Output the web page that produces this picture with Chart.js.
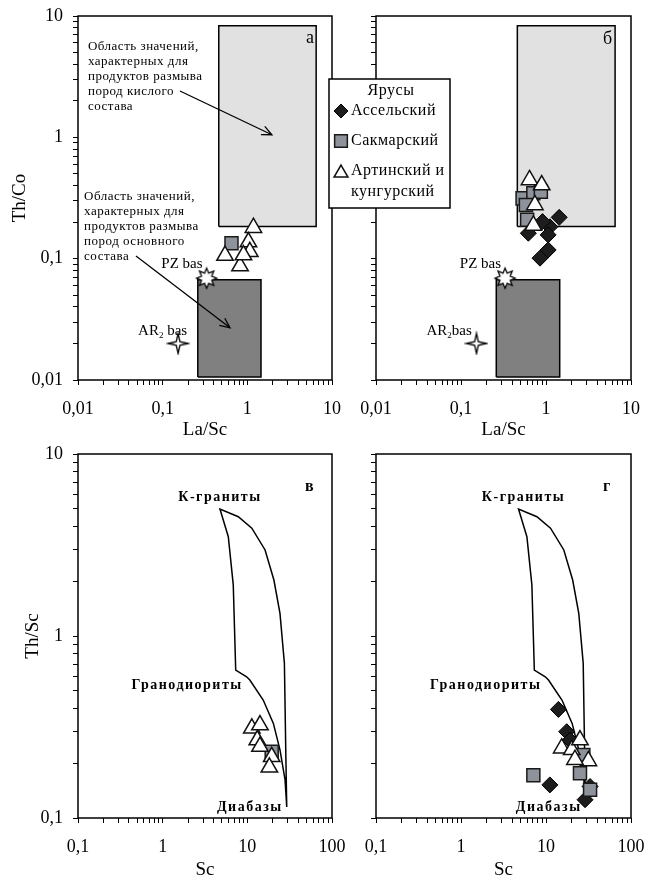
<!DOCTYPE html>
<html>
<head>
<meta charset="utf-8">
<script src="https://cdn.jsdelivr.net/npm/chart.js@4.4.1/dist/chart.umd.min.js"></script>
<style>
  html, body { margin: 0; padding: 0; background: #fff; overflow: hidden; }
  #wrap { position: relative; width: 648px; height: 877px; }
  canvas { position: absolute; }
</style>
</head>
<body>
<div id="wrap">
  <canvas id="pa" width="348" height="448" style="left:0;top:0"></canvas>
  <canvas id="pb" width="328" height="448" style="left:320px;top:0"></canvas>
  <canvas id="pc" width="348" height="447" style="left:0;top:430px"></canvas>
  <canvas id="pd" width="328" height="447" style="left:320px;top:430px"></canvas>
</div>
<script>
// ---------- axis decades and tick labels ----------
const laScDecades = [0.01, 0.1, 1, 10];
const laScLabels  = ['0,01', '0,1', '1', '10'];
const thCoDecades = [0.01, 0.1, 1, 10];
const thCoLabels  = ['0,01', '0,1', '1', '10'];
const scDecades   = [0.1, 1, 10, 100];
const scLabels    = ['0,1', '1', '10', '100'];
const thScDecades = [0.1, 1, 10];
const thScLabels  = ['0,1', '1', '10'];

// ---------- Th/Co vs La/Sc ----------
// panel "а"
const artA_LaSc = [1.18, 1.03, 1.07, 0.545, 0.82, 0.90];
const artA_ThCo = [0.180, 0.137, 0.114, 0.106, 0.087, 0.107];
const sakA_LaSc = [0.65];
const sakA_ThCo = [0.134];
// panel "б"
const assB_LaSc = [1.43, 1.11, 0.62, 1.06, 0.91, 0.85, 1.06];
const assB_ThCo = [0.219, 0.183, 0.162, 0.157, 0.202, 0.101, 0.118];
const sakB_LaSc = [0.53, 0.71, 0.58, 0.60, 0.87];
const sakB_ThCo = [0.314, 0.346, 0.277, 0.209, 0.356];
const artB_LaSc = [0.64, 0.89, 0.74, 0.71];
const artB_ThCo = [0.445, 0.404, 0.277, 0.188];
// reference basalts
const pzBas = { laSc: 0.33, thCo: 0.069 };
const ar2Bas = { laSc: 0.152, thCo: 0.020 };
// fields: felsic-source (light) and mafic-source (dark)
const felsicLaSc = [0.46, 6.5];
const felsicThCo = [0.184, 8.3];
const maficLaSc  = [0.26, 1.45];
const maficThCo  = [0.0106, 0.067];
// annotation arrows [fromX, fromY, toX, toY] in La/Sc, Th/Co
const arrowFelsic = [0.160, 2.41, 1.95, 1.05];
const arrowMafic  = [0.0484, 0.105, 0.624, 0.0269];
const noteFelsic = ['Область значений,', 'характерных для', 'продуктов размыва', 'пород кислого', 'состава'];
const noteMafic  = ['Область значений,', 'характерных для', 'продуктов размыва', 'пород основного', 'состава'];
const noteFelsicAt = [0.0131, 5.55];
const noteMaficAt  = [0.0118, 0.322];

// ---------- Th/Sc vs Sc ----------
// envelope K-granites / granodiorites / diabases
const envSc   = [29.2, 28.6, 27.4, 24.3, 20.6, 16.2, 11.3, 7.82, 4.75, 5.96, 6.82, 7.29, 9.8, 10.7, 15.4, 20.3, 24.3, 27.9, 29.2];
const envThSc = [0.115, 0.2, 0.708, 1.33, 2.03, 2.97, 3.91, 4.52, 4.99, 3.51, 1.91, 0.65, 0.597, 0.573, 0.445, 0.331, 0.237, 0.162, 0.115];
// panel "в"
const artC_Sc   = [11.3, 14.1, 13.1, 14.1, 19.4, 18.2];
const artC_ThSc = [0.311, 0.324, 0.268, 0.247, 0.217, 0.190];
const sakC_Sc   = [19.4];
const sakC_ThSc = [0.231];
// panel "г"
const assD_Sc   = [14.0, 17.5, 19.2, 11.1, 33.0, 28.8];
const assD_ThSc = [0.395, 0.298, 0.268, 0.152, 0.149, 0.126];
const sakD_Sc   = [7.1, 25.1, 27.5, 33.0];
const sakD_ThSc = [0.172, 0.176, 0.222, 0.143];
const artD_Sc   = [15.3, 20.1, 25.1, 31.5, 21.9];
const artD_ThSc = [0.242, 0.237, 0.268, 0.206, 0.209];

const legendTitle = 'Ярусы';
const legendNames = ['Ассельский', 'Сакмарский', ['Артинский и', 'кунгурский']];

// ---------- shared styling ----------
const SERIF = '"Liberation Serif", "DejaVu Serif", serif';
const DIAMOND = { pointStyle: 'rectRot', pointRadius: 8, backgroundColor: '#1d1d1d', borderColor: '#000', borderWidth: 1 };
const SQUARE  = { pointStyle: 'rect', pointRadius: 9.2, backgroundColor: '#8d929b', borderColor: '#1a1a1a', borderWidth: 1.5 };
const TRIANGLE = { pointStyle: 'triangle', pointRadius: 9.5, backgroundColor: '#fff', borderColor: '#111', borderWidth: 1.5 };

const pts = (xs, ys) => xs.map((x, i) => ({ x, y: ys[i] }));
const rectPts = (xr, yr) => [
  { x: xr[0], y: yr[0] }, { x: xr[1], y: yr[0] }, { x: xr[1], y: yr[1] }, { x: xr[0], y: yr[1] }, { x: xr[0], y: yr[0] }
];

function makeStar(n, outer, inner) {
  const c = document.createElement('canvas');
  c.width = c.height = Math.ceil(outer * 2 + 4);
  const g = c.getContext('2d');
  const m = c.width / 2;
  g.beginPath();
  for (let i = 0; i < n * 2; i++) {
    const r = i % 2 ? inner : outer;
    const a = -Math.PI / 2 + i * Math.PI / n;
    const px = m + r * Math.cos(a), py = m + r * Math.sin(a);
    if (i === 0) g.moveTo(px, py); else g.lineTo(px, py);
  }
  g.closePath();
  g.fillStyle = '#fff';
  g.fill();
  g.lineWidth = 1.3;
  g.strokeStyle = '#000';
  g.stroke();
  return c;
}
const pzStar = makeStar(8, 10, 5.5);
const arStar = makeStar(4, 10, 2.6);

function logTicks(decades) {
  const out = [];
  for (let i = 0; i < decades.length - 1; i++)
    for (let k = 1; k <= 9; k++) out.push(+(decades[i] * k).toPrecision(6));
  out.push(decades[decades.length - 1]);
  return out;
}

function axis(pos, decades, labels, title, size, titlePad) {
  const isX = pos === 'bottom';
  return {
    type: 'logarithmic',
    position: pos,
    min: decades[0],
    max: decades[decades.length - 1],
    afterBuildTicks: s => { s.ticks = logTicks(decades).map(v => ({ value: v, major: decades.includes(v) })); },
    afterFit: s => {
      if (isX) s.height = size; else s.width = size;
      s.paddingLeft = s.paddingRight = s.paddingTop = s.paddingBottom = 0;
    },
    ticks: {
      autoSkip: false, maxRotation: 0, minRotation: 0,
      padding: isX ? 13 : 10,
      color: '#000',
      font: { family: SERIF, size: 18 },
      callback: v => { const i = decades.indexOf(v); return labels && i >= 0 ? labels[i] : ''; }
    },
    grid: { drawOnChartArea: false, drawTicks: true, tickLength: 5, color: '#000', lineWidth: 1 },
    border: { display: false },
    title: title
      ? { display: true, text: title, color: '#000', font: { family: SERIF, size: 19, lineHeight: 1.2 }, padding: titlePad }
      : { display: false }
  };
}

const framePlugin = {
  id: 'frame',
  afterDatasetsDraw(chart) {
    const { ctx, chartArea: a } = chart;
    ctx.save();
    ctx.strokeStyle = '#000';
    ctx.lineWidth = 1.5;
    ctx.strokeRect(a.left, a.top, a.right - a.left, a.bottom - a.top);
    ctx.restore();
  }
};

function text(ctx, str, x, y, opt) {
  ctx.save();
  ctx.font = (opt.bold ? 'bold ' : '') + opt.size + 'px ' + SERIF;
  ctx.letterSpacing = (opt.spacing || 0) + 'px';
  ctx.fillStyle = opt.color || '#000';
  ctx.textAlign = opt.align || 'left';
  ctx.textBaseline = 'middle';
  ctx.fillText(str, x, y);
  ctx.restore();
}

function arrow(ctx, x1, y1, x2, y2) {
  ctx.save();
  ctx.strokeStyle = '#000';
  ctx.lineWidth = 1.3;
  ctx.beginPath();
  ctx.moveTo(x1, y1);
  ctx.lineTo(x2, y2);
  ctx.stroke();
  const a = Math.atan2(y2 - y1, x2 - x1), L = 10, W = 4.5;
  ctx.beginPath();
  ctx.moveTo(x2 - L * Math.cos(a) + W * Math.sin(a), y2 - L * Math.sin(a) - W * Math.cos(a));
  ctx.lineTo(x2, y2);
  ctx.lineTo(x2 - L * Math.cos(a) - W * Math.sin(a), y2 - L * Math.sin(a) + W * Math.cos(a));
  ctx.stroke();
  ctx.restore();
}

// "AR2 bas" with a subscript 2
function arLabel(ctx, x, y, gap) {
  ctx.save();
  ctx.fillStyle = '#000';
  ctx.textBaseline = 'alphabetic';
  ctx.textAlign = 'left';
  ctx.font = '15px ' + SERIF;
  ctx.fillText('AR', x, y + 5);
  let w = ctx.measureText('AR').width;
  ctx.font = '9px ' + SERIF;
  ctx.fillText('2', x + w, y + 8);
  w += ctx.measureText('2').width;
  ctx.font = '15px ' + SERIF;
  ctx.fillText(gap ? ' bas' : 'bas', x + w, y + 5);
  ctx.restore();
}

function laScDatasets(series) {
  return [
    ...series,
    { data: [{ x: pzBas.laSc, y: pzBas.thCo }], pointStyle: pzStar, pointRadius: 10, order: 1 },
    { data: [{ x: ar2Bas.laSc, y: ar2Bas.thCo }], pointStyle: arStar, pointRadius: 10, order: 1 },
    { data: rectPts(felsicLaSc, felsicThCo), showLine: true, pointRadius: 0, borderColor: '#000', borderWidth: 1.5,
      backgroundColor: '#e1e1e1', fill: 'shape', tension: 0, order: 9 },
    { data: rectPts(maficLaSc, maficThCo), showLine: true, pointRadius: 0, borderColor: '#000', borderWidth: 1.5,
      backgroundColor: '#808080', fill: 'shape', tension: 0, order: 9 }
  ];
}

function basaltLabels(chart, arGap, arDx) {
  const { ctx, scales: { x, y } } = chart;
  const px = x.getPixelForValue(pzBas.laSc), py = y.getPixelForValue(pzBas.thCo);
  text(ctx, 'PZ bas', px - 4, py - 14, { size: 15, align: 'right' });
  const ax = x.getPixelForValue(ar2Bas.laSc), ay = y.getPixelForValue(ar2Bas.thCo);
  arLabel(ctx, ax + arDx, ay - 13, arGap);
}

function baseOptions(pad, scales) {
  return {
    responsive: false,
    animation: false,
    events: [],
    layout: { padding: pad },
    plugins: { legend: { display: false }, tooltip: { enabled: false } },
    scales
  };
}

// ---------- panel а ----------
new Chart(document.getElementById('pa'), {
  type: 'scatter',
  data: {
    datasets: laScDatasets([
      { data: pts(artA_LaSc, artA_ThCo), ...TRIANGLE, order: 2 },
      { data: pts(sakA_LaSc, sakA_ThCo), ...SQUARE, order: 4 }
    ])
  },
  options: baseOptions({ left: 0, top: 16, right: 16, bottom: 0 }, {
    x: axis('bottom', laScDecades, laScLabels, 'La/Sc', 68, { top: 0, bottom: 6.6 }),
    y: axis('left', thCoDecades, thCoLabels, 'Th/Co', 78, { top: 8.6, bottom: 0 })
  }),
  plugins: [framePlugin, {
    id: 'notesA',
    afterDraw(chart) {
      const { ctx, chartArea: a, scales: { x, y } } = chart;
      const drawNote = (lines, at) => {
        const nx = x.getPixelForValue(at[0]), ny = y.getPixelForValue(at[1]);
        lines.forEach((l, i) => text(ctx, l, nx, ny + i * 15, { size: 13, spacing: 0.5 }));
      };
      drawNote(noteFelsic, noteFelsicAt);
      drawNote(noteMafic, noteMaficAt);
      arrow(ctx, x.getPixelForValue(arrowFelsic[0]), y.getPixelForValue(arrowFelsic[1]),
                 x.getPixelForValue(arrowFelsic[2]), y.getPixelForValue(arrowFelsic[3]));
      arrow(ctx, x.getPixelForValue(arrowMafic[0]), y.getPixelForValue(arrowMafic[1]),
                 x.getPixelForValue(arrowMafic[2]), y.getPixelForValue(arrowMafic[3]));
      basaltLabels(chart, true, -40);
      text(ctx, 'а', a.right - 26, a.top + 22, { size: 18 });
    }
  }]
});

// ---------- panel б ----------
new Chart(document.getElementById('pb'), {
  type: 'scatter',
  data: {
    datasets: laScDatasets([
      { data: pts(artB_LaSc, artB_ThCo), ...TRIANGLE, order: 2 },
      { data: pts(assB_LaSc, assB_ThCo), ...DIAMOND, order: 3 },
      { data: pts(sakB_LaSc, sakB_ThCo), ...SQUARE, order: 4 }
    ])
  },
  options: baseOptions({ left: 0, top: 16, right: 17, bottom: 0 }, {
    x: axis('bottom', laScDecades, laScLabels, 'La/Sc', 68, { top: 0, bottom: 6.6 }),
    y: axis('left', thCoDecades, null, null, 56)
  }),
  plugins: [framePlugin, {
    id: 'legendB',
    afterDraw(chart) {
      const { ctx, chartArea: a } = chart;
      basaltLabels(chart, false, -50);
      text(ctx, 'б', a.right - 28, a.top + 23, { size: 18 });
      // legend box
      const L = 9, T = 79, W = 121, H = 129;
      ctx.save();
      ctx.fillStyle = '#fff';
      ctx.fillRect(L, T, W, H);
      ctx.strokeStyle = '#000';
      ctx.lineWidth = 1.5;
      ctx.strokeRect(L, T, W, H);
      ctx.restore();
      text(ctx, legendTitle, L + 62, T + 12, { size: 16, align: 'center', spacing: 0.5 });
      const styles = [DIAMOND, SQUARE, TRIANGLE];
      const rows = [T + 32, T + 62, T + 92];
      styles.forEach((st, i) => {
        ctx.save();
        ctx.fillStyle = st.backgroundColor;
        ctx.strokeStyle = st.borderColor;
        ctx.lineWidth = st.borderWidth;
        const r = st.pointStyle === 'triangle' ? 8 : st.pointStyle === 'rect' ? 9 : 7;
        Chart.helpers.drawPoint(ctx, { pointStyle: st.pointStyle, radius: r, borderWidth: st.borderWidth, rotation: 0 }, L + 12, rows[i] + (st.pointStyle === 'triangle' ? 2 : 0));
        ctx.restore();
        const name = legendNames[i];
        if (Array.isArray(name)) name.forEach((n, j) => text(ctx, n, L + 22, rows[i] + j * 21, { size: 16, spacing: 0.5 }));
        else text(ctx, name, L + 22, rows[i], { size: 16, spacing: 0.5 });
      });
    }
  }]
});

// ---------- Th/Sc vs Sc panels ----------
function envelopeDataset() {
  return { data: pts(envSc, envThSc), showLine: true, pointRadius: 0, borderColor: '#000', borderWidth: 1.5,
           fill: false, tension: 0, order: 9 };
}
function envelopeLabels(chart, kDx) {
  const { ctx, scales: { x, y } } = chart;
  const at = i => [x.getPixelForValue(envSc[i]), y.getPixelForValue(envThSc[i])];
  const top = at(8), notch = at(11), bottom = at(0);
  const bold = { size: 14, bold: true, spacing: 1.5 };
  text(ctx, 'К-граниты', top[0] + kDx, top[1] - 12, { ...bold, align: 'center' });
  text(ctx, 'Гранодиориты', notch[0] + 7, notch[1] + 15, { ...bold, align: 'right' });
  text(ctx, 'Диабазы', bottom[0] - 4, bottom[1], { ...bold, align: 'right' });
}

new Chart(document.getElementById('pc'), {
  type: 'scatter',
  data: {
    datasets: [
      { data: pts(artC_Sc, artC_ThSc), ...TRIANGLE, order: 2 },
      { data: pts(sakC_Sc, sakC_ThSc), ...SQUARE, order: 4 },
      envelopeDataset()
    ]
  },
  options: baseOptions({ left: 0, top: 24, right: 16, bottom: 0 }, {
    x: axis('bottom', scDecades, scLabels, 'Sc', 59, { top: 0, bottom: -4 }),
    y: axis('left', thScDecades, thScLabels, 'Th/Sc', 78, { top: 21.6, bottom: 0 })
  }),
  plugins: [framePlugin, {
    id: 'labelsC',
    afterDraw(chart) {
      const a = chart.chartArea;
      envelopeLabels(chart, 0);
      text(chart.ctx, 'в', a.right - 27, a.top + 33, { size: 16, bold: true });
    }
  }]
});

new Chart(document.getElementById('pd'), {
  type: 'scatter',
  data: {
    datasets: [
      { data: pts(artD_Sc, artD_ThSc), ...TRIANGLE, order: 2 },
      { data: pts(sakD_Sc, sakD_ThSc), ...SQUARE, order: 3 },
      { data: pts(assD_Sc, assD_ThSc), ...DIAMOND, order: 4 },
      envelopeDataset()
    ]
  },
  options: baseOptions({ left: 0, top: 24, right: 17, bottom: 0 }, {
    x: axis('bottom', scDecades, scLabels, 'Sc', 59, { top: 0, bottom: -4 }),
    y: axis('left', thScDecades, null, null, 56)
  }),
  plugins: [framePlugin, {
    id: 'labelsD',
    afterDraw(chart) {
      const a = chart.chartArea;
      envelopeLabels(chart, 5);
      text(chart.ctx, 'г', a.right - 28, a.top + 33, { size: 16, bold: true });
    }
  }]
});
</script>
</body>
</html>
